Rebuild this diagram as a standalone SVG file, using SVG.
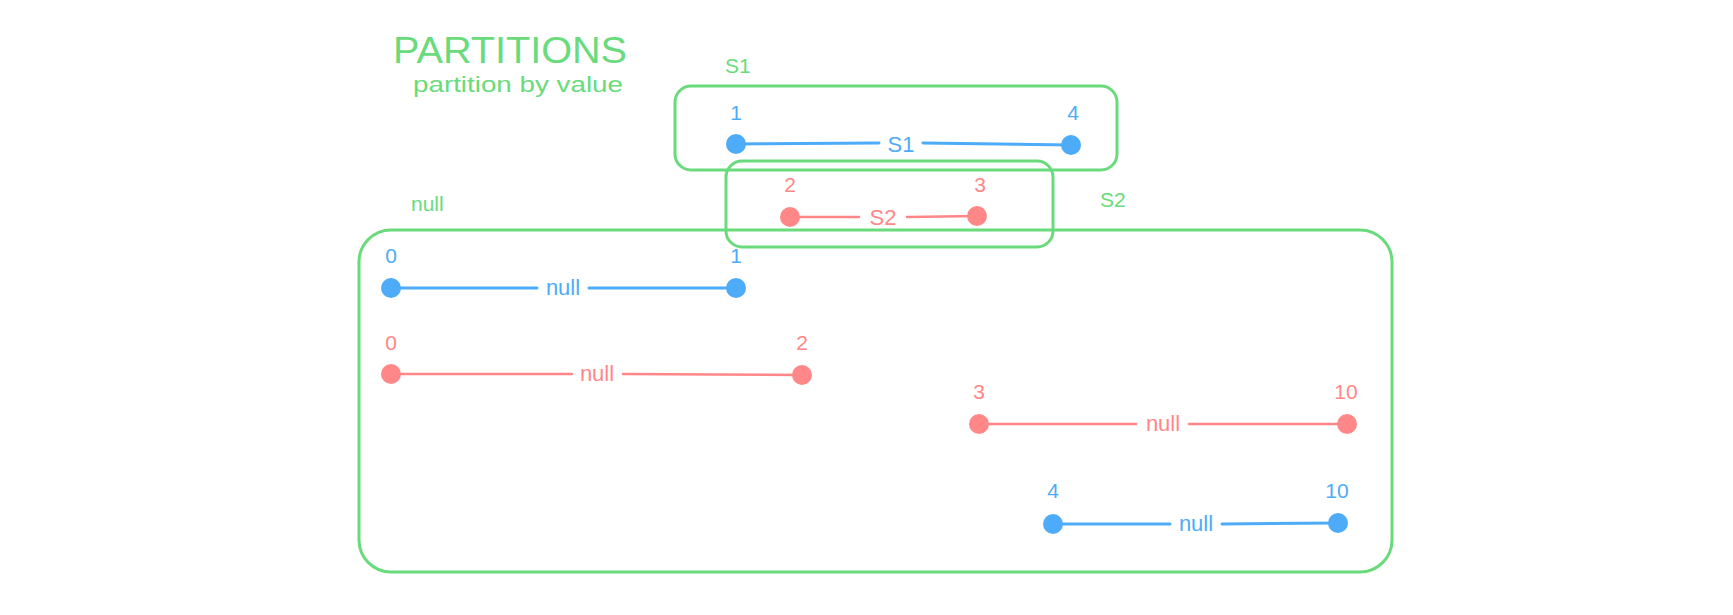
<svg xmlns="http://www.w3.org/2000/svg" width="1733" height="615" viewBox="0 0 1733 615">
<style>
text{font-family:"Liberation Sans","DejaVu Sans",sans-serif}
.g{fill:#69db7c}
.b{fill:#4dabf7}
.r{fill:#ff8787}
.box{fill:none;stroke:#69db7c;stroke-width:3}
.lb{stroke:#4dabf7;stroke-width:3;fill:none;stroke-linecap:round}
.lr{stroke:#ff8787;stroke-width:2.5;fill:none;stroke-linecap:round}
.n{font-size:21px;text-anchor:middle}
.m{font-size:22px;text-anchor:middle}
</style>
<rect width="1733" height="615" fill="#fff"/>
<g id="title">
<text class="g" x="393" y="63" font-size="36" textLength="234" lengthAdjust="spacingAndGlyphs">PARTITIONS</text>
<text class="g" x="413" y="92" font-size="22" textLength="210" lengthAdjust="spacingAndGlyphs">partition by value</text>
</g>
<g id="box-null">
<rect class="box" x="359" y="230" width="1033" height="342" rx="32"/>
<text class="g" x="411" y="211" font-size="21">null</text>
</g>
<g id="box-s1">
<rect class="box" x="675" y="86" width="442" height="84" rx="16"/>
<text class="g" x="725" y="73" font-size="21">S1</text>
</g>
<g id="box-s2">
<rect class="box" x="726" y="161" width="327" height="86" rx="16"/>
<text class="g" x="1100" y="207" font-size="21">S2</text>
</g>
<g id="connectors">
<line class="lb" x1="736" y1="144" x2="879" y2="143"/>
<line class="lb" x1="923" y1="143" x2="1071" y2="145"/>
<line class="lr" x1="790" y1="217" x2="859" y2="217"/>
<line class="lr" x1="907" y1="217" x2="977" y2="216"/>
<line class="lb" x1="391" y1="288" x2="537" y2="288"/>
<line class="lb" x1="589" y1="288" x2="736" y2="288"/>
<line class="lr" x1="391" y1="374" x2="572" y2="374"/>
<line class="lr" x1="623" y1="374" x2="802" y2="375"/>
<line class="lr" x1="979" y1="424" x2="1136" y2="424"/>
<line class="lr" x1="1189" y1="424" x2="1347" y2="424"/>
<line class="lb" x1="1053" y1="524" x2="1170" y2="524"/>
<line class="lb" x1="1222" y1="524" x2="1338" y2="523"/>
</g>
<g id="interval-s1-blue">
<circle class="b" cx="736" cy="144" r="10"/>
<circle class="b" cx="1071" cy="145" r="10"/>
<text class="b n" x="736" y="120">1</text>
<text class="b n" x="1073" y="120">4</text>
<text class="b m" x="901" y="152">S1</text>
</g>
<g id="interval-s2-red">
<circle class="r" cx="790" cy="217" r="10"/>
<circle class="r" cx="977" cy="216" r="10"/>
<text class="r n" x="790" y="192">2</text>
<text class="r n" x="980" y="192">3</text>
<text class="r m" x="883" y="225">S2</text>
</g>
<g id="interval-null-blue-1">
<circle class="b" cx="391" cy="288" r="10"/>
<circle class="b" cx="736" cy="288" r="10"/>
<text class="b n" x="391" y="263">0</text>
<text class="b n" x="736" y="263">1</text>
<text class="b m" x="563" y="295">null</text>
</g>
<g id="interval-null-red-1">
<circle class="r" cx="391" cy="374" r="10"/>
<circle class="r" cx="802" cy="375" r="10"/>
<text class="r n" x="391" y="350">0</text>
<text class="r n" x="802" y="350">2</text>
<text class="r m" x="597" y="381">null</text>
</g>
<g id="interval-null-red-2">
<circle class="r" cx="979" cy="424" r="10"/>
<circle class="r" cx="1347" cy="424" r="10"/>
<text class="r n" x="979" y="399">3</text>
<text class="r n" x="1346" y="399">10</text>
<text class="r m" x="1163" y="431">null</text>
</g>
<g id="interval-null-blue-2">
<circle class="b" cx="1053" cy="524" r="10"/>
<circle class="b" cx="1338" cy="523" r="10"/>
<text class="b n" x="1053" y="498">4</text>
<text class="b n" x="1337" y="498">10</text>
<text class="b m" x="1196" y="531">null</text>
</g>
</svg>
